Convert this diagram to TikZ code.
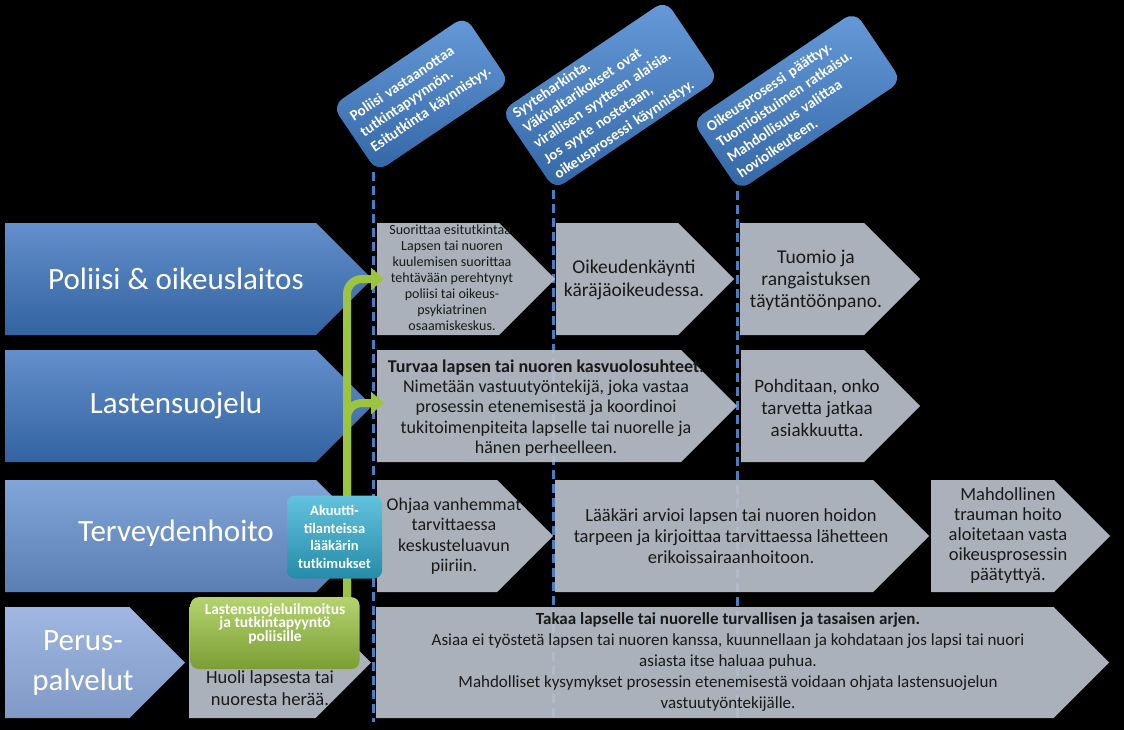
\documentclass[tikz,border=0pt]{standalone}
\usepackage{fontspec}
\setmainfont{Carlito}
\usetikzlibrary{arrows.meta, calc}
\definecolor{sininen}{HTML}{3C74BE}
\definecolor{sininenvaalea}{HTML}{6B95D2}
\definecolor{perus}{HTML}{8EAADC}
\definecolor{harmaa}{HTML}{B9BFCA}
\definecolor{laatikko}{HTML}{3F80CF}
\definecolor{vihrea}{HTML}{9BC540}
\definecolor{turkoosi}{HTML}{2FAED2}
\definecolor{viiva}{HTML}{4A7EC0}

% left x, top y, tip x, bottom y
\newcommand{\nuoli}[5]{%
  \path[#1] (#2,#3) -- ({#4-(#5-#3)/2},#3) -- (#4,{(#3+#5)/2})
    -- ({#4-(#5-#3)/2},#5) -- (#2,#5) -- cycle;}

\begin{document}
\begin{tikzpicture}[x=1pt, y=-1pt,
    rivi/.style={top color=sininen!80!white, bottom color=sininen!85!black},
    rivi3/.style={top color=sininenvaalea!85!white, bottom color=sininenvaalea!85!black},
    rivi4/.style={top color=perus!85!white, bottom color=perus!90!black},
    vaihe/.style={fill=harmaa, fill opacity=0.93},
    katko/.style={draw=viiva, line width=3pt, dash pattern=on 9pt off 5pt},
    otsikko/.style={text=white, align=center, font=\fontsize{31}{40}\selectfont},
    teksti/.style={text=black!90, align=center, font=\fontsize{18.5}{21}\selectfont},
    kulma/.style={rounded corners=12pt, rotate=34, top color=laatikko!80!white,
                  bottom color=laatikko!80!black, text=white, align=left,
                  font=\bfseries\fontsize{15}{18.5}\selectfont, inner xsep=9pt, inner ysep=2pt},
    vihreanuoli/.style={draw=vihrea, line width=8pt, rounded corners=15pt,
                        -{Triangle[width=22pt, length=13pt]}}
  ]
  \fill[black] (0,0) rectangle (1124,730);
  \useasboundingbox (0,0) rectangle (1124,730);

  % phases at the top
  \node[kulma, minimum width=160pt, minimum height=80pt, text width=142pt] (vaihe1) at (421,94)
    {Poliisi vastaanottaa\\ tutkintapyynnön.\\ Esitutkinta käynnistyy.};
  \node[kulma, minimum width=198pt, minimum height=95pt, text width=180pt] (vaihe2) at (610,95)
    {Syyteharkinta.\\ Väkivaltarikokset ovat\\ virallisen syytteen alaisia.\\ Jos syyte nostetaan,\\ oikeusprosessi käynnistyy.};
  \node[kulma, minimum width=196pt, minimum height=84pt, text width=178pt] (vaihe3) at (797,101)
    {Oikeusprosessi päättyy.\\ Tuomioistuimen ratkaisu.\\ Mahdollisuus valittaa\\ hovioikeuteen.};

  \coordinate (raja1) at (373,722);
  \coordinate (raja2) at (553,722);
  \coordinate (raja3) at (737,722);
  \draw[katko] (vaihe1.south west -| raja1) -- (raja1);
  \draw[katko] (vaihe2.south west -| raja2) -- (raja2);
  \draw[katko] (vaihe3.south west -| raja3) -- (raja3);

  % rows
  \nuoli{rivi}{5}{223}{372}{335}
  \nuoli{rivi}{5}{350}{372}{462}
  \nuoli{rivi3}{5}{480}{372}{592}
  \nuoli{rivi4}{5}{607}{185}{718}
  \node[otsikko] (poliisi) at (176,279) {Poliisi \& oikeuslaitos};
  \node[otsikko] (lastensuojelu) at (176,405) {Lastensuojelu};
  \node[otsikko] (terveys) at (176,533) {Terveydenhoito};
  \node[otsikko] (peruspalvelut) at (83,663) {Perus-\\palvelut};

  \nuoli{vaihe}{377}{223}{555}{335}
  \nuoli{vaihe}{556}{223}{734}{335}
  \nuoli{vaihe}{740}{223}{920}{335}
  \nuoli{vaihe}{377}{350}{737}{462}
  \nuoli{vaihe}{741}{350}{920}{462}
  \nuoli{vaihe}{377}{480}{553}{592}
  \nuoli{vaihe}{555}{480}{929}{592}
  \nuoli{vaihe}{931}{480}{1110}{592}
  \nuoli{vaihe}{189}{607}{371}{718}
  \nuoli{vaihe}{376}{607}{1109}{718}

  \node[teksti, font=\fontsize{14}{16}\selectfont] (esitutkinta) at (452,278)
    {Suorittaa esitutkintaa.\\ Lapsen tai nuoren\\ kuulemisen suorittaa\\ tehtävään perehtynyt\\
     poliisi tai oikeus-\\ psykiatrinen\\ osaamiskeskus.};
  \node[teksti, font=\fontsize{19.5}{23}\selectfont] (oikeudenkaynti) at (634,280)
    {Oikeudenkäynti\\ käräjäoikeudessa.};
  \node[teksti, font=\fontsize{19.5}{22}\selectfont] (tuomio) at (816,280)
    {Tuomio ja\\ rangaistuksen\\ täytäntöönpano.};
  \node[teksti, font=\fontsize{18}{20.3}\selectfont] (turvaa) at (546,408)
    {\textbf{Turvaa lapsen tai nuoren kasvuolosuhteet.}\\ Nimetään vastuutyöntekijä, joka vastaa\\
     prosessin etenemisestä ja koordinoi\\ tukitoimenpiteita lapselle tai nuorelle ja\\ hänen perheelleen.};
  \node[teksti, font=\fontsize{19}{22}\selectfont] (pohditaan) at (817,408)
    {Pohditaan, onko\\ tarvetta jatkaa\\ asiakkuutta.};
  \node[teksti, font=\fontsize{18}{20.5}\selectfont] (ohjaa) at (454,536)
    {Ohjaa vanhemmat\\ tarvittaessa\\ keskusteluavun\\ piiriin.};
  \node[teksti] (laakari) at (731,536)
    {Lääkäri arvioi lapsen tai nuoren hoidon\\ tarpeen ja kirjoittaa tarvittaessa lähetteen\\ erikoissairaanhoitoon.};
  \node[teksti, font=\fontsize{18.5}{20}\selectfont] (trauma) at (1008,536)
    {Mahdollinen\\ trauman hoito\\ aloitetaan vasta\\ oikeusprosessin\\ päätyttyä.};
  \node[teksti, font=\fontsize{18.5}{22}\selectfont] (huoli) at (270,688)
    {Huoli lapsesta tai\\ nuoresta herää.};
  \node[teksti, font=\fontsize{17}{21}\selectfont] (arki) at (728,662)
    {\textbf{Takaa lapselle tai nuorelle turvallisen ja tasaisen arjen.}\\
     Asiaa ei työstetä lapsen tai nuoren kanssa, kuunnellaan ja kohdataan jos lapsi tai nuori\\
     asiasta itse haluaa puhua.\\
     Mahdolliset kysymykset prosessin etenemisestä voidaan ohjata lastensuojelun\\
     vastuutyöntekijälle.};

  \node[rounded corners=8pt, top color=vihrea!75!white, bottom color=vihrea!80!black,
        minimum width=169pt, minimum height=60pt, text=white, align=center, anchor=north,
        inner ysep=6pt, font=\bfseries\fontsize{15.5}{13.5}\selectfont, text depth=22pt]
        (ilmoitus) at (275,597)
    {Lastensuojeluilmoitus\\ ja tutkintapyyntö\\ poliisille};

  % referral arrows
  \coordinate (varsi) at (347,0);
  \coordinate (tulo1) at (384,279);
  \coordinate (tulo2) at (384,403);
  \draw[vihreanuoli] (ilmoitus.north -| varsi) |- (tulo1);
  \draw[vihreanuoli] (ilmoitus.north -| varsi) |- (tulo2);

  \node[rounded corners=8pt, top color=turkoosi!75!white, bottom color=turkoosi!80!black,
        minimum width=95pt, minimum height=83pt, text=white, align=center,
        font=\bfseries\fontsize{14.5}{17.7}\selectfont] (akuutti) at (334.5,537)
    {Akuutti-\\tilanteissa\\lääkärin\\tutkimukset};
\end{tikzpicture}
\end{document}
